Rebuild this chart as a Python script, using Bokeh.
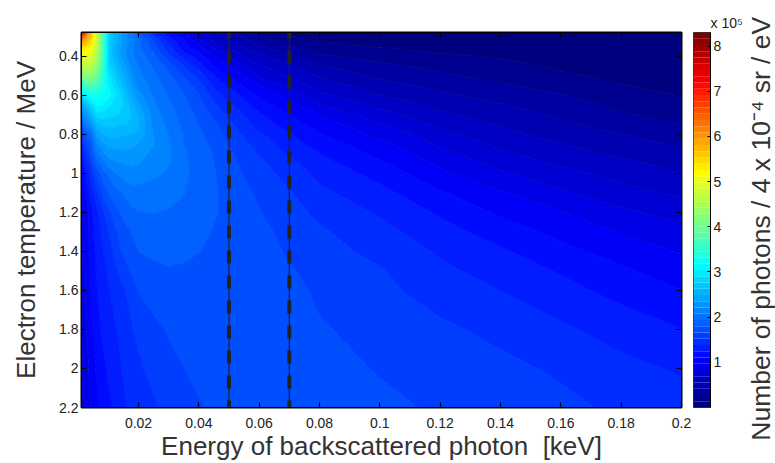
from bokeh.plotting import figure
from bokeh.layouts import row
from bokeh.models import Range1d, FixedTicker, LinearAxis, Label
from bokeh.embed import file_html
from bokeh.resources import INLINE
import numpy as np
from math import pi

# Photon energy (keV) and electron temperature (MeV)
energy = [0.001, 0.002, 0.004, 0.006, 0.008, 0.01, 0.012, 0.014, 0.016, 0.018, 0.02, 0.025,
          0.03, 0.035, 0.04, 0.045, 0.05, 0.055, 0.06, 0.07, 0.08, 0.1, 0.12, 0.14, 0.16, 0.18, 0.2]
temperature = [0.278, 0.32, 0.36, 0.4, 0.45, 0.5, 0.55, 0.6, 0.65, 0.7, 0.75, 0.8, 0.85, 0.9,
               0.95, 1.0, 1.1, 1.2, 1.3, 1.4, 1.5, 1.6, 1.8, 2.0, 2.2]
# Contour readings, one row per temperature
t_0278 = [7.5,7.0,5.9,4.9,4.0,3.3,3.1,2.9,2.7,2.45,2.2,1.7,1.4,1.15,.95,.72,.55,.42,.3,.14,.1,.06,.04,.03,.02,.02,.01]
t_032 = [6.2,5.95,5.6,4.85,4.0,3.3,3.1,2.87,2.7,2.55,2.4,2.0,1.6,1.35,1.05,.8,.66,.55,.43,.22,.15,.1,.08,.06,.04,.03,.02]
t_036 = [5.4,5.35,5.25,4.75,3.98,3.3,3.05,2.85,2.67,2.52,2.38,2.1,1.72,1.43,1.25,1.0,.83,.67,.56,.38,.26,.18,.13,.1,.06,.05,.03]
t_040 = [5.0,5.0,4.95,4.6,3.95,3.3,3.05,2.83,2.66,2.53,2.42,2.22,1.88,1.62,1.4,1.16,1.0,.83,.7,.53,.36,.26,.19,.15,.1,.07,.05]
t_045 = [4.6,4.65,4.65,4.4,3.9,3.33,3.17,2.97,2.79,2.6,2.49,2.3,2.1,1.83,1.58,1.33,1.16,1.0,.85,.68,.51,.38,.28,.22,.14,.1,.07]
t_050 = [4.2,4.25,4.3,4.15,3.82,3.42,3.27,3.09,2.92,2.66,2.55,2.36,2.2,1.97,1.76,1.5,1.33,1.16,.98,.81,.65,.46,.36,.28,.19,.13,.1]
t_055 = [3.8,3.85,3.95,3.9,3.72,3.5,3.33,3.2,3.0,2.8,2.6,2.43,2.26,2.1,1.92,1.62,1.47,1.31,1.16,.93,.75,.57,.44,.35,.27,.17,.13]
t_060 = [3.3,3.45,3.6,3.65,3.6,3.5,3.42,3.3,3.12,2.92,2.72,2.48,2.31,2.17,2.0,1.76,1.58,1.45,1.3,1.08,.87,.67,.53,.43,.34,.23,.16]
t_065 = [2.85,3.05,3.3,3.5,3.47,3.4,3.33,3.31,3.2,3.03,2.86,2.53,2.36,2.21,2.07,1.86,1.69,1.56,1.41,1.22,1.0,.79,.62,.51,.41,.29,.21]
t_070 = [2.45,2.7,3.0,3.33,3.33,3.3,3.27,3.24,3.18,3.12,2.98,2.58,2.41,2.25,2.12,1.96,1.78,1.66,1.52,1.33,1.16,.9,.7,.58,.47,.35,.27]
t_075 = [2.1,2.4,2.68,3.08,3.17,3.17,3.17,3.14,3.14,3.08,3.02,2.62,2.45,2.28,2.16,2.04,1.87,1.73,1.6,1.42,1.25,1.01,.79,.65,.53,.43,.33]
t_080 = [1.82,2.12,2.33,2.83,2.97,3.03,3.05,3.02,3.0,2.98,2.95,2.66,2.49,2.31,2.19,2.09,1.93,1.8,1.69,1.51,1.34,1.11,.88,.71,.6,.5,.4]
t_085 = [1.62,1.9,2.17,2.62,2.78,2.88,2.91,2.89,2.88,2.87,2.82,2.67,2.51,2.33,2.21,2.13,1.98,1.87,1.76,1.58,1.42,1.21,.96,.79,.67,.57,.47]
t_090 = [1.46,1.72,2.02,2.44,2.6,2.72,2.75,2.77,2.78,2.76,2.72,2.62,2.52,2.35,2.24,2.15,2.03,1.91,1.81,1.64,1.5,1.28,1.05,.86,.74,.63,.54]
t_095 = [1.35,1.58,1.88,2.22,2.4,2.57,2.63,2.65,2.67,2.68,2.66,2.58,2.51,2.36,2.26,2.16,2.06,1.95,1.87,1.72,1.56,1.36,1.13,.94,.8,.71,.6]
t_100 = [1.26,1.46,1.72,2.05,2.25,2.36,2.49,2.53,2.58,2.6,2.58,2.52,2.47,2.36,2.27,2.17,2.09,1.98,1.9,1.76,1.61,1.43,1.2,1.02,.89,.76,.66]
t_110 = [1.12,1.31,1.56,1.8,2.02,2.17,2.26,2.31,2.37,2.42,2.43,2.42,2.39,2.33,2.27,2.18,2.11,2.04,1.96,1.84,1.7,1.55,1.35,1.18,1.02,.9,.8]
t_120 = [1.0,1.16,1.42,1.6,1.78,1.94,2.08,2.17,2.24,2.29,2.32,2.33,2.31,2.28,2.24,2.17,2.13,2.08,2.0,1.89,1.79,1.64,1.47,1.3,1.17,1.03,.93]
t_130 = [.96,1.15,1.41,1.56,1.7,1.83,1.95,2.05,2.12,2.17,2.24,2.25,2.25,2.22,2.2,2.15,2.13,2.1,2.05,1.93,1.85,1.72,1.56,1.42,1.28,1.15,1.05]
t_140 = [.93,1.14,1.37,1.53,1.64,1.75,1.86,1.98,2.05,2.11,2.16,2.19,2.19,2.17,2.16,2.14,2.13,2.11,2.07,1.97,1.89,1.78,1.64,1.52,1.38,1.26,1.15]
t_150 = [.91,1.13,1.34,1.5,1.6,1.69,1.78,1.87,1.95,2.03,2.07,2.12,2.15,2.15,2.14,2.13,2.13,2.12,2.09,2.01,1.93,1.84,1.7,1.59,1.48,1.36,1.24]
t_160 = [.9,1.12,1.32,1.48,1.57,1.64,1.72,1.78,1.84,1.92,2.0,2.06,2.1,2.12,2.13,2.13,2.13,2.13,2.11,2.05,1.96,1.87,1.75,1.66,1.55,1.44,1.33]
t_180 = [.88,1.09,1.27,1.42,1.53,1.6,1.64,1.7,1.76,1.82,1.86,1.95,2.01,2.06,2.09,2.11,2.12,2.13,2.13,2.09,2.01,1.93,1.86,1.78,1.69,1.59,1.5]
t_200 = [.85,1.06,1.2,1.34,1.44,1.53,1.6,1.65,1.71,1.76,1.8,1.88,1.94,1.99,2.03,2.06,2.09,2.12,2.13,2.1,2.05,1.98,1.93,1.87,1.8,1.71,1.64]
t_220 = [.82,.98,1.16,1.28,1.38,1.45,1.52,1.6,1.66,1.72,1.75,1.8,1.89,1.93,1.98,2.01,2.05,2.1,2.12,2.1,2.08,2.03,1.97,1.93,1.87,1.79,1.74]
readings = [t_0278, t_032, t_036, t_040, t_045, t_050, t_055, t_060, t_065, t_070, t_075, t_080,
            t_085, t_090, t_095, t_100, t_110, t_120, t_130, t_140, t_150, t_160, t_180, t_200, t_220]
# Calibration of those readings against the colour bar (number of photons, x 1e5)
reading_scale = [0.0, 3.0, 3.16, 3.33, 3.5, 3.65, 4.0, 4.6, 8.3]
colour_bar_scale = [0.0, 2.5, 2.66, 2.85, 3.1, 3.25, 3.9, 4.6, 8.3]

marked_energies = [0.05, 0.07]
x_ticks = [0.02, 0.04, 0.06, 0.08, 0.1, 0.12, 0.14, 0.16, 0.18, 0.2]
x_tick_labels = ["0.02", "0.04", "0.06", "0.08", "0.1", "0.12", "0.14", "0.16", "0.18", "0.2"]
y_ticks = [0.4, 0.6, 0.8, 1, 1.2, 1.4, 1.6, 1.8, 2, 2.2]
y_tick_labels = ["0.4", "0.6", "0.8", "1", "1.2", "1.4", "1.6", "1.8", "2", "2.2"]
bar_ticks = [1, 2, 3, 4, 5, 6, 7, 8]
n_levels = 60
z_max = 8.3

def jet(t):
    r = np.clip(1.5 - abs(4 * t - 3), 0, 1)
    g = np.clip(1.5 - abs(4 * t - 2), 0, 1)
    b = np.clip(1.5 - abs(4 * t - 1), 0, 1)
    return "#%02x%02x%02x" % (int(r * 255), int(g * 255), int(b * 255))

levels = [z_max * i / n_levels for i in range(n_levels + 1)]
palette = [jet(i / (n_levels - 1)) for i in range(n_levels)]
photons = np.interp(np.array(readings), reading_scale, colour_bar_scale)

FONT = "Liberation Sans"
INK = "#222222"

p = figure(frame_width=600, frame_height=375, output_backend="svg", toolbar_location=None,
           x_range=Range1d(0.0011, 0.2), y_range=Range1d(2.2, 0.278),
           min_border_left=81, min_border_top=32, min_border_right=12, min_border_bottom=56,
           background_fill_color="white", outline_line_color="black", outline_line_width=2)
p.grid.visible = False
p.contour(energy, temperature, photons, levels, fill_color=palette,
          line_color=[palette[0]] + palette, line_width=1)

for e in marked_energies:
    p.line([e, e], [temperature[0], temperature[-1]], line_color="#222222", line_width=1.2)
    p.line([e, e], [temperature[0], temperature[-1]], line_color="#222222", line_width=4,
           line_dash="13 12", line_dash_offset=7)

def style_axis(ax, ticks, labels):
    ax.ticker = FixedTicker(ticks=ticks)
    ax.major_label_overrides = dict(zip(ticks, labels))
    ax.major_tick_in = 5
    ax.major_tick_out = 0
    ax.minor_tick_in = 0
    ax.minor_tick_out = 0
    ax.major_tick_line_color = "black"
    ax.major_tick_line_width = 1.2
    ax.axis_line_color = "black"
    ax.major_label_text_font = FONT
    ax.major_label_text_font_size = "14px"
    ax.major_label_text_color = INK
    ax.major_label_standoff = 3
    ax.axis_label_text_font = FONT
    ax.axis_label_text_font_style = "normal"
    ax.axis_label_text_color = "#333333"

style_axis(p.xaxis[0], x_ticks, x_tick_labels)
style_axis(p.yaxis[0], y_ticks, y_tick_labels)
p.xaxis[0].axis_label = "Energy of backscattered photon\u00a0 [keV]"
p.xaxis[0].axis_label_text_font_size = "26px"
p.yaxis[0].axis_label = "Electron temperature / MeV"
p.yaxis[0].axis_label_text_font_size = "26px"
p.xaxis[0].major_label_standoff = 10
p.xaxis[0].axis_label_standoff = 0
p.yaxis[0].axis_label_standoff = 15

top_axis = LinearAxis()
style_axis(top_axis, x_ticks, [""] * len(x_ticks))
p.add_layout(top_axis, "above")
right_axis = LinearAxis()
style_axis(right_axis, y_ticks, [""] * len(y_ticks))
p.add_layout(right_axis, "right")

cb = figure(frame_width=17, frame_height=375, output_backend="svg", toolbar_location=None,
            x_range=Range1d(0, 1), y_range=Range1d(0, z_max), y_axis_location="right",
            min_border_left=0, min_border_top=32, min_border_right=35, min_border_bottom=56,
            outline_line_color="#333333", outline_line_width=1)
cb.grid.visible = False
cb.xaxis.visible = False
cb.quad(left=0, right=1, bottom=levels[:-1], top=levels[1:], fill_color=palette, line_color=None)
style_axis(cb.yaxis[0], bar_ticks, [str(t) for t in bar_ticks])
cb.yaxis[0].major_tick_in = 3
cb.title.text = "x 10\u2075"
cb.title.text_font = FONT
cb.title.text_font_size = "14px"
cb.title.text_font_style = "normal"
cb.title.text_color = INK
cb.title.offset = 17
cb.title.standoff = 4

# The colour bar's label, reading upwards, in a strip of its own
strip = figure(frame_width=30, frame_height=463, output_backend="svg", toolbar_location=None,
               x_range=Range1d(0, 1), y_range=Range1d(0, 1), frame_align=False,
               min_border_left=0, min_border_top=0, min_border_right=0, min_border_bottom=0,
               outline_line_color=None)
strip.axis.visible = False
strip.grid.visible = False
strip.add_layout(Label(x=0.5, y=0.507, angle=pi / 2,
                       text="Number of photons / 4 x 10\u207b\u2074 sr / eV", text_font=FONT,
                       text_font_size="26.5px", text_color="#333333", text_align="center",
                       text_baseline="middle"))

layout = row(p, cb, strip)
open("out.html", "w").write(file_html(layout, INLINE))
